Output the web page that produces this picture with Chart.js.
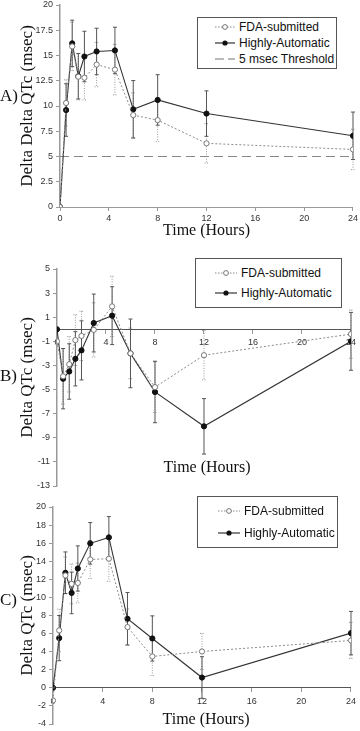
<!DOCTYPE html>
<html>
<head>
<meta charset="utf-8">
<script src="https://cdn.jsdelivr.net/npm/chart.js@4"></script>
<style>
  body { margin: 0; background: #fff; }
  #wrap { position: relative; width: 360px; height: 731px; overflow: hidden; font-family: "Liberation Sans", Arial, sans-serif; }
  canvas { position: absolute; left: 0; }
  .panel { position: absolute; font-family: "Liberation Serif", serif; font-size: 17px; color: #111; }
  .xtitle { position: absolute; font-family: "Liberation Serif", serif; font-size: 16px; color: #111; transform: translate(-50%, -50%); white-space: nowrap; }
  .legend { position: absolute; border: 1px solid #555; background: #fff; box-sizing: border-box;
            display: flex; flex-direction: column; justify-content: space-evenly; }
  .legend .row { display: flex; align-items: center; font-size: 12px; color: #111; height: 14px; }
  .legend svg { margin-right: 4px; }
</style>
</head>
<body>
<div id="wrap">
  <canvas id="chartA" width="360" height="240" style="top:0"></canvas>
  <canvas id="chartB" width="360" height="255" style="top:240px"></canvas>
  <canvas id="chartC" width="360" height="236" style="top:495px"></canvas>
  <div class="panel" style="left:0; top:86px">A)</div>
  <div class="panel" style="left:0; top:366px">B)</div>
  <div class="panel" style="left:0; top:590px">C)</div>
  <div class="xtitle" style="left:207px; top:467px">Time (Hours)</div>
  <div class="xtitle" style="left:206px; top:719px">Time (Hours)</div>
  <div class="legend" id="legendA" style="left:197px; top:17px; width:140px; height:52px; padding-left:17px"></div>
  <div class="legend" id="legendB" style="left:195px; top:258px; width:147px; height:50px; padding-left:19px"></div>
  <div class="legend" id="legendC" style="left:197px; top:496px; width:141px; height:52px; padding-left:20px"></div>
</div>
<script>
// sampling times (hours)
const hours = [0, 0.5, 1, 1.5, 2, 3, 4.5, 6, 8, 12, 24];
const xTicks = [0, 4, 8, 12, 16, 20, 24];

// A) Delta Delta QTc
const aFda = [0, 10.3, 15.9, 12.9, 12.8, 14.1, 13.6, 9.1, 8.6, 6.3, 5.7];
const aFdaErr = [0, 2.3, 2.4, 2.3, 2.2, 2.2, 2.5, 2.2, 2.1, 1.95, 2.0];
const aAuto = [0, 9.6, 16.2, 12.95, 14.9, 15.4, 15.5, 9.67, 10.6, 9.25, 7.05];
const aAutoErr = [0, 2.6, 2.3, 2.25, 2.5, 2.3, 2.3, 2.85, 2.5, 2.25, 2.35];
const threshold = 5;

// B) Delta QTc
const bFda = [-1.0, -3.9, -2.9, -0.9, -0.55, -0.05, 1.9, -2.0, -4.8, -2.15, -0.4];
const bFdaErr = [0, 2.3, 2.3, 2.1, 2.05, 2.25, 2.5, 2.1, 2.1, 2.05, 2.0];
const bAuto = [0, -4.1, -3.5, -2.45, -1.75, 0.52, 1.13, -2.0, -5.2, -8.05, -1.0];
const bAutoErr = [0, 2.5, 2.3, 2.25, 2.45, 2.4, 2.4, 2.85, 2.55, 2.3, 2.4];

// C) Delta QTc
const cFda = [-1.4, 6.35, 12.43, 11.5, 11.6, 14.2, 14.28, 6.72, 3.47, 4.02, 5.24];
const cFdaErr = [0, 2.35, 2.05, 2.2, 2.2, 2.1, 2.5, 2.0, 2.1, 2.0, 2.0];
const cAuto = [0, 5.5, 12.73, 10.5, 13.2, 15.98, 16.64, 7.64, 5.46, 1.14, 6.05];
const cAutoErr = [0, 2.5, 2.3, 2.3, 2.5, 2.3, 2.3, 2.9, 2.5, 2.3, 2.4];

Chart.defaults.font.family = '"Liberation Sans", Arial, sans-serif';
Chart.defaults.animation = false;

const FDA_COLOR = '#8a8a8a';
const AUTO_COLOR = '#333';

function points(vals) {
  return hours.map((h, i) => ({ x: h, y: vals[i] }));
}

function fdaSet(vals, errs) {
  return {
    label: 'FDA-submitted', data: points(vals), errors: errs,
    borderColor: FDA_COLOR, borderWidth: 1, borderDash: [2, 2],
    pointRadius: 2.6, pointBackgroundColor: '#fff', pointBorderColor: '#777', pointBorderWidth: 1,
    errColor: '#999', errDash: [1, 1.5]
  };
}

function autoSet(vals, errs) {
  return {
    label: 'Highly-Automatic', data: points(vals), errors: errs,
    borderColor: AUTO_COLOR, borderWidth: 1.1,
    pointRadius: 2.6, pointBackgroundColor: '#111', pointBorderColor: '#111', pointBorderWidth: 1,
    errColor: '#555', errDash: []
  };
}

// vertical error bars with caps, drawn through the y scale
const errorBars = {
  id: 'errorBars',
  beforeDatasetsDraw(chart) {
    const ctx = chart.ctx;
    const y = chart.scales.y;
    chart.data.datasets.forEach((ds, i) => {
      if (!ds.errors) return;
      const meta = chart.getDatasetMeta(i);
      ctx.save();
      ctx.strokeStyle = ds.errColor;
      ctx.lineWidth = 1;
      ctx.setLineDash(ds.errDash);
      meta.data.forEach((pt, j) => {
        const e = ds.errors[j];
        if (!e) return;
        const v = ds.data[j].y;
        const top = y.getPixelForValue(v + e);
        const bot = y.getPixelForValue(v - e);
        ctx.beginPath();
        ctx.moveTo(pt.x, top); ctx.lineTo(pt.x, bot);
        ctx.moveTo(pt.x - 2, top); ctx.lineTo(pt.x + 2, top);
        ctx.moveTo(pt.x - 2, bot); ctx.lineTo(pt.x + 2, bot);
        ctx.stroke();
      });
      ctx.restore();
    });
  }
};

const tickFont = { size: 9 };

function xAxis(extra) {
  return Object.assign({
    type: 'linear', min: 0, max: 24,
    afterBuildTicks: (s) => { s.ticks = xTicks.map(v => ({ value: v })); },
    grid: { display: true, drawOnChartArea: false, tickLength: 4, color: '#999' },
    border: { color: '#999' },
    ticks: { color: '#333', font: tickFont, padding: 2, maxRotation: 0 }
  }, extra);
}

function yAxis(min, max, step, title, width, padTop) {
  return {
    min: min, max: max,
    ticks: { stepSize: step, color: '#333', font: tickFont, padding: 3, callback: v => String(v) },
    grid: { display: true, drawOnChartArea: false, tickLength: 4, color: '#999' },
    border: { color: '#999', width: 1.5 },
    title: { display: true, text: title, color: '#111',
             font: { family: '"Liberation Serif", serif', size: 17 }, padding: { top: 17, bottom: 0 } },
    afterFit: (s) => { s.width = width; s.paddingTop = padTop; s.paddingBottom = 0; }
  };
}

function baseOptions(scales, padding) {
  return {
    responsive: false,
    layout: { padding: padding },
    plugins: { legend: { display: false }, tooltip: { enabled: false } },
    scales: scales
  };
}

// A
new Chart(document.getElementById('chartA'), {
  type: 'line',
  data: {
    datasets: [
      fdaSet(aFda, aFdaErr),
      autoSet(aAuto, aAutoErr),
      {
        label: '5 msec Threshold',
        data: [{ x: hours[0], y: threshold }, { x: hours[hours.length - 1], y: threshold }],
        borderColor: '#888', borderWidth: 1.2, borderDash: [9, 5], pointRadius: 0
      }
    ]
  },
  options: baseOptions({
    x: xAxis({
      title: { display: true, text: 'Time (Hours)', color: '#111',
               font: { family: '"Liberation Serif", serif', size: 16 }, padding: 0 },
      afterFit: (s) => { s.height = 33; }
    }),
    y: yAxis(0, 20, 2.5, 'Delta Delta QTc (msec)', 60, 3)
  }, { top: 3, right: 6, left: 0, bottom: 0 }),
  plugins: [errorBars]
});

// B
const bx = xAxis({ position: { y: 0 } });
bx.border = { color: '#555' };
bx.ticks.padding = 4;
new Chart(document.getElementById('chartB'), {
  type: 'line',
  data: { datasets: [fdaSet(bFda, bFdaErr), autoSet(bAuto, bAutoErr)] },
  options: baseOptions({
    x: bx,
    y: yAxis(-13, 5, 2, 'Delta QTc (msec)', 57, 29)
  }, { top: 29, right: 4, left: 0, bottom: 9 }),
  plugins: [errorBars]
});

// C
const cx = xAxis({ position: { y: 0 } });
cx.border = { color: '#555' };
cx.ticks.padding = 4;
new Chart(document.getElementById('chartC'), {
  type: 'line',
  data: { datasets: [fdaSet(cFda, cFdaErr), autoSet(cAuto, cAutoErr)] },
  options: baseOptions({
    x: cx,
    y: yAxis(-4, 20, 2, 'Delta QTc (msec)', 53, 12)
  }, { top: 12, right: 5, left: 0, bottom: 7 }),
  plugins: [errorBars]
});

// HTML legends with line+marker samples
function sample(kind, w) {
  let s = '<svg width="' + w + '" height="10">';
  if (kind === 'fda') {
    s += '<line x1="0" y1="5" x2="' + w + '" y2="5" stroke="#888" stroke-width="1" stroke-dasharray="1.5,1.5"/>' +
         '<circle cx="' + w / 2 + '" cy="5" r="2.4" fill="#fff" stroke="#777" stroke-width="1"/>';
  } else if (kind === 'auto') {
    s += '<line x1="0" y1="5" x2="' + w + '" y2="5" stroke="#333" stroke-width="1.2"/>' +
         '<circle cx="' + w / 2 + '" cy="5" r="2.6" fill="#111"/>';
  } else {
    s += '<line x1="0" y1="5" x2="' + w + '" y2="5" stroke="#777" stroke-width="1.2" stroke-dasharray="9,4"/>';
  }
  return s + '</svg>';
}

function buildLegend(id, items, w) {
  const el = document.getElementById(id);
  el.innerHTML = items.map(([kind, text]) =>
    '<div class="row">' + sample(kind, w) + '<span>' + text + '</span></div>').join('');
}

buildLegend('legendA', [['fda', 'FDA-submitted'], ['auto', 'Highly-Automatic'], ['dash', '5 msec Threshold']], 20);
buildLegend('legendB', [['fda', 'FDA-submitted'], ['auto', 'Highly-Automatic']], 22);
buildLegend('legendC', [['fda', 'FDA-submitted'], ['auto', 'Highly-Automatic']], 22);
</script>
</body>
</html>
